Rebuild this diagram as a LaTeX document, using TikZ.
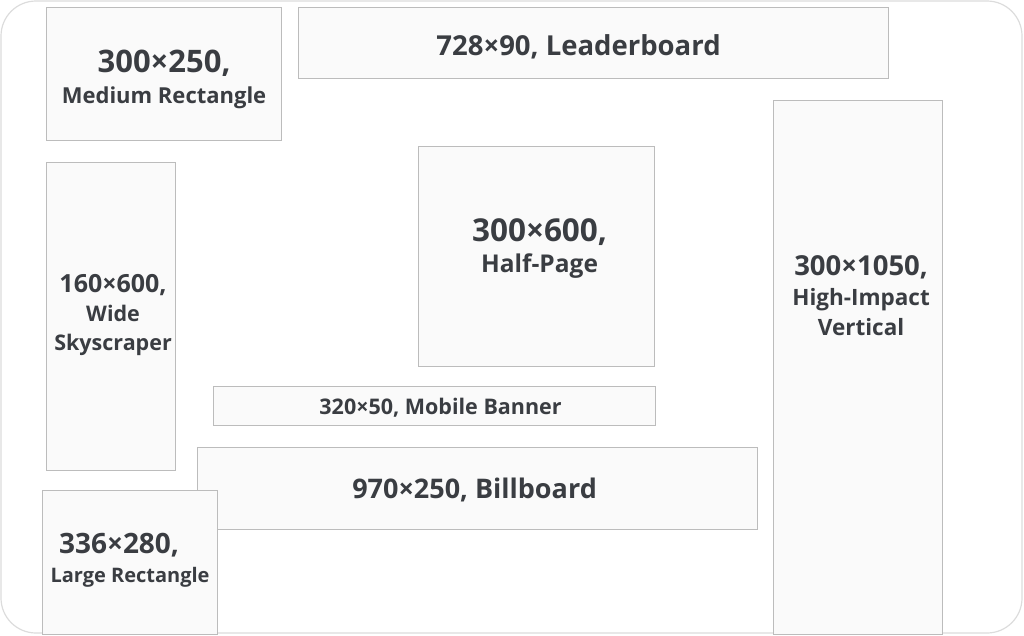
\documentclass[tikz,border=0pt]{standalone}
\usepackage{fontspec}
\setmainfont{Open Sans}
\definecolor{adfill}{HTML}{FAFAFA}
\definecolor{adline}{HTML}{BCBCBC}
\definecolor{adtext}{HTML}{3A3D42}
\definecolor{frameline}{HTML}{DCDCDC}
\newcommand\adsize[2]{\fontsize{#1}{#2}\selectfont}
\tikzset{
	adbox/.style={draw=adline, fill=adfill, line width=1.1pt, anchor=north west, inner sep=0pt},
	adlabel/.style={align=center, text=adtext, inner sep=0pt},
}

\begin{document}
\begin{tikzpicture}[x=1pt, y=-1pt]
	\useasboundingbox (0,0) rectangle (1024,635);
	\draw[frameline, line width=1.2pt, rounded corners=35pt] (1,1) rectangle (1022,633);
	\node[adbox, minimum width=235pt, minimum height=133pt] (medrect) at (46,7) {};
	\node[adbox, minimum width=590pt, minimum height=71pt] (leader) at (298,7) {};
	\node[adbox, minimum width=129pt, minimum height=308pt] (skyscr) at (46,162) {};
	\node[adbox, minimum width=236pt, minimum height=220pt] (halfpage) at (418,146) {};
	\node[adbox, minimum width=169pt, minimum height=534pt] (vertical) at (773,100) {};
	\node[adbox, minimum width=442pt, minimum height=39pt] (mobile) at (213,386) {};
	\node[adbox, minimum width=560pt, minimum height=82pt] (billboard) at (197,447) {};
	\node[adbox, minimum width=175pt, minimum height=144pt] (lgrect) at (42,490) {};

	\node[adlabel, font=\bfseries\adsize{22}{31}] (medrect-txt) at ([shift={(0,5)}]medrect.center)
		{{\adsize{31}{31}300×250,}\\Medium Rectangle};
	\node[adlabel, font=\bfseries\adsize{27.5}{30}] (leader-txt) at ([shift={(-15,4)}]leader.center)
		{728×90, Leaderboard};
	\node[adlabel, font=\bfseries\adsize{21.5}{29}] (skyscr-txt) at ([shift={(2,-2)}]skyscr.center)
		{{\adsize{25}{29}160×600,}\\Wide\\Skyscraper};
	\node[adlabel, font=\bfseries\adsize{24.5}{31}] (halfpage-txt) at ([shift={(3,-8)}]halfpage.center)
		{{\adsize{31.5}{31}300×600,}\\Half-Page};
	\node[adlabel, font=\bfseries\adsize{22.5}{30}] (vertical-txt) at ([shift={(3,-72)}]vertical.center)
		{{\adsize{27.5}{30}300×1050,}\\High-Impact\\Vertical};
	\node[adlabel, font=\bfseries\adsize{21.5}{24}] (mobile-txt) at ([shift={(6,2)}]mobile.center)
		{320×50, Mobile Banner};
	\node[adlabel, font=\bfseries\adsize{27}{30}] (billboard-txt) at ([shift={(-3,1)}]billboard.center)
		{970×250, Billboard};
	\node[adlabel, font=\bfseries\adsize{20}{29}] (lgrect-txt) at ([shift={(0,-2)}]lgrect.center)
		{{\adsize{28}{29}336×280,\hspace*{22pt}}\\Large Rectangle};
\end{tikzpicture}
\end{document}
